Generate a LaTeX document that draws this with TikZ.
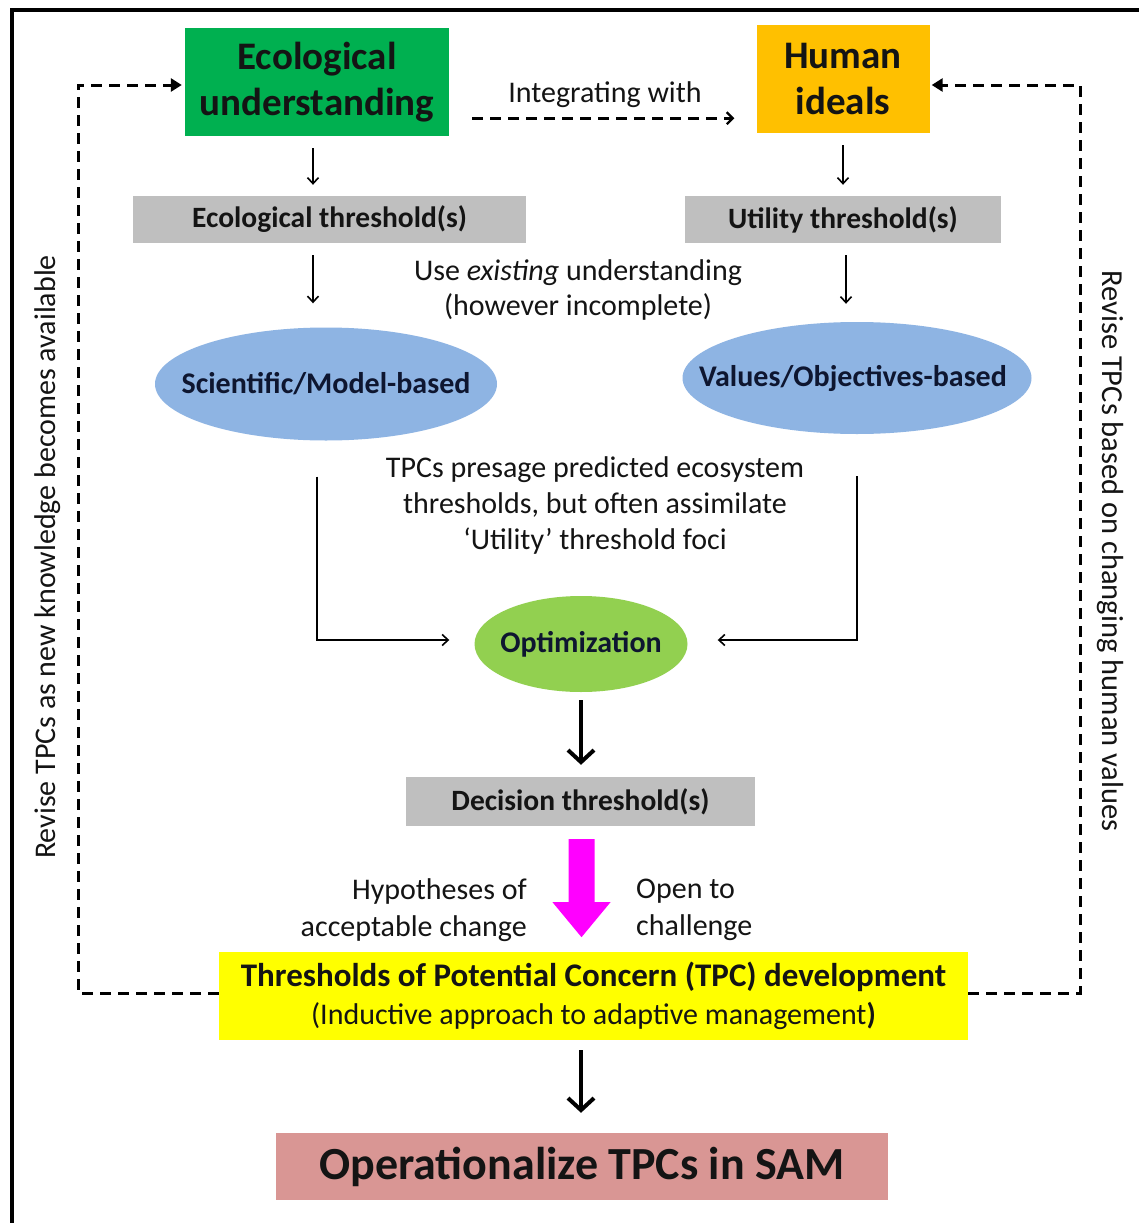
\documentclass[tikz,border=0pt]{standalone}
\usepackage{fontspec}
\setmainfont{Carlito}
\usetikzlibrary{arrows.meta,shapes.geometric,calc}

\definecolor{ecogreen}{HTML}{00B050}
\definecolor{humorange}{HTML}{FFC000}
\definecolor{thgray}{HTML}{BFBFBF}
\definecolor{ellblue}{HTML}{8EB4E3}
\definecolor{optgreen}{HTML}{92D050}
\definecolor{tpcyellow}{HTML}{FFFF00}
\definecolor{oppink}{HTML}{D99694}
\definecolor{hotmagenta}{HTML}{FF00FF}
\definecolor{txt}{HTML}{141414}
\definecolor{navytxt}{HTML}{0E1630}

\tikzset{
  topbox/.style={rectangle, inner sep=0pt, align=center, text=txt,
    font=\fontsize{39}{46}\selectfont\bfseries},
  graybox/.style={rectangle, fill=thgray, inner sep=0pt, text=txt,
    font=\fontsize{29.5}{34}\selectfont\bfseries},
  oval/.style={ellipse, inner sep=0pt, text=navytxt,
    font=\fontsize{30}{34}\selectfont\bfseries},
  plain/.style={inner sep=0pt, text=txt, align=center,
    font=\fontsize{30}{36}\selectfont},
  thin arrow/.style={line width=1.6pt, -{Straight Barb[length=6pt,width=11pt,line width=1.6pt]}},
  bold arrow/.style={line width=4pt, -{Straight Barb[length=12pt,width=26pt,line width=4pt]}},
  feedback/.style={line width=3pt, dash pattern=on 11pt off 7pt,
    -{Triangle[length=11pt,width=13pt]}},
  integrate/.style={line width=2.6pt, dash pattern=on 11pt off 7pt,
    -{Straight Barb[length=6pt,width=12pt,line width=2.2pt]}}
}

\begin{document}
\begin{tikzpicture}[x=1pt,y=-1pt]
\useasboundingbox (0,0) rectangle (1139,1223);
\fill[white] (0,0) rectangle (1139,1223);

% outer frame (top and left edges)
\draw[line width=4pt] (12,1223) -- (12,10) -- (1139,10);

% top row
\node[topbox, fill=ecogreen, minimum width=264pt, minimum height=108pt] (eco) at (317,82)
  {Ecological\\understanding};
\node[topbox, fill=humorange, minimum width=173pt, minimum height=108pt] (hum) at (843,79)
  {Human\\ideals};
\node[plain] (integ) at (605,95) {Integrating with};

% thresholds
\node[graybox, minimum width=393pt, minimum height=47pt] (ecoth) at (329.5,219.5) {Ecological threshold(s)};
\node[graybox, minimum width=316pt, minimum height=47pt] (utilth) at (843,219.5) {Utility threshold(s)};

\node[plain, font=\fontsize{30}{35}\selectfont] (use) at (578,290) {Use \emph{existing} understanding\\(however incomplete)};

% approaches (text set in zero-width boxes so the ellipse keeps its size)
\node[oval, fill=ellblue, minimum width=342pt, minimum height=113pt] (sci) at (326,384)
  {\makebox[0pt]{Scientific/Model-based}};
\node[oval, fill=ellblue, minimum width=349pt, minimum height=112pt] (val) at (857,378)
  {\makebox[0pt]{\hspace*{-8pt}Values/Objectives-based}};

\node[plain] (presage) at (595,505) {TPCs presage predicted ecosystem\\thresholds, but often assimilate\\`Utility' threshold foci};

\node[oval, fill=optgreen, minimum width=213pt, minimum height=96pt] (opt) at (581,644)
  {\makebox[0pt]{Optimization}};

\node[graybox, minimum width=349pt, minimum height=49pt] (dec) at (580.5,801.5) {Decision threshold(s)};

\node[plain, anchor=east, align=right, font=\fontsize{30}{37}\selectfont] (hyp) at (527,910) {Hypotheses of\\acceptable change};
\node[plain, anchor=west, align=left, font=\fontsize{30}{37}\selectfont] (open) at (636,910) {Open to\\challenge};

\node[rectangle, fill=tpcyellow, inner sep=0pt, minimum width=749pt, minimum height=88pt,
  align=center, text=txt, font=\fontsize{30}{38}\selectfont] (tpc) at (593.5,996)
  {{\fontsize{33}{38}\selectfont\bfseries Thresholds of Potential Concern (TPC) development}\\(Inductive approach to adaptive management\textbf{)}};

\node[rectangle, fill=oppink, inner sep=0pt, minimum width=612pt, minimum height=67pt,
  text=txt, font=\fontsize{46}{50}\selectfont\bfseries] (op) at (582,1166.5) {Operationalize TPCs in SAM};

% side notes
\node[plain, rotate=90, font=\fontsize{30}{36}\selectfont] (revL) at (48,557) {Revise TPCs as new knowledge becomes available};
\node[plain, rotate=-90, font=\fontsize{30.5}{36}\selectfont] (revR) at (1110,551) {Revise TPCs based on changing human values};

% connectors
\draw[integrate] ($(eco.south east)+(23,-18)$) -- ($(hum.south west)+(-22,-15)$);

\draw[thin arrow] ($(eco.south)+(-4,12)$) -- ($(ecoth.north -| eco.south)+(-4,-11)$);
\draw[thin arrow] ($(hum.south)+(0,12)$) -- ($(utilth.north -| hum.south)+(0,-11)$);
\draw[thin arrow] ($(ecoth.south -| eco.south)+(-4,12)$) -- ($(sci.north -| eco.south)+(-4,-24)$);
\draw[thin arrow] ($(utilth.south -| hum.south)+(3,12)$) -- ($(val.north -| hum.south)+(3,-18)$);

\coordinate (sciout) at ($(sci.south)+(-9,36)$);
\coordinate (valout) at ($(val.south)+(0,42)$);
\draw[thin arrow, shorten >=25pt] (sciout) |- ($(opt.west)+(0,-4)$);
\draw[thin arrow, shorten >=30pt] (valout) |- ($(opt.east)+(0,-4)$);

\draw[bold arrow] ($(opt.south)+(0,8)$) -- ($(dec.north -| opt.south)+(0,-12)$);

% magenta arrow from decision thresholds to TPC development
\fill[hotmagenta] ($(dec.south)+(-12,13)$) -- ($(dec.south)+(14,13)$) -- ($(dec.south)+(14,76)$)
  -- ($(dec.south)+(30,76)$) -- ($(dec.south)+(1,111)$) -- ($(dec.south)+(-28,76)$)
  -- ($(dec.south)+(-12,76)$) -- cycle;

\draw[bold arrow] ($(tpc.south -| op.north)+(-1,10)$) -- ($(op.north)+(-1,-20)$);

% feedback loops
\coordinate (lx) at (78,0);
\coordinate (rx) at (1080,0);
\draw[feedback, shorten >=3pt] ($(tpc.west)+(0,-3)$) -- ($(tpc.west -| lx)+(0,-3)$) |- ($(eco.west)+(0,3)$);
\draw[feedback, shorten >=2pt] ($(tpc.east)+(0,-3)$) -- ($(tpc.east -| rx)+(0,-3)$) |- ($(hum.east)+(0,6)$);
\end{tikzpicture}
\end{document}
